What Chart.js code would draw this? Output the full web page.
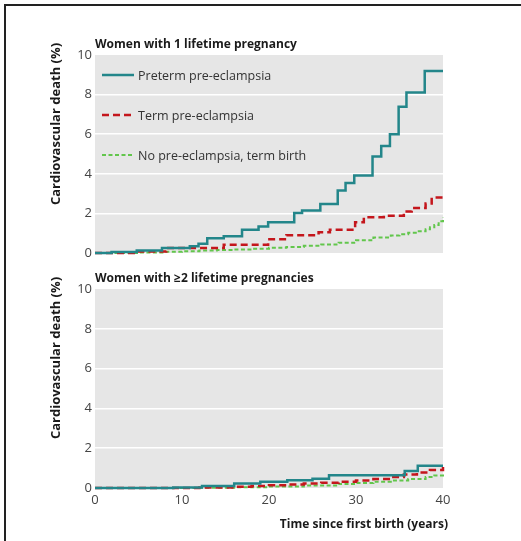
<!DOCTYPE html>
<html lang="en">
<head>
<meta charset="UTF-8">
<title>Cardiovascular death by pre-eclampsia</title>
<script src="https://cdn.jsdelivr.net/npm/chart.js"></script>
<style>
  body { margin: 0; background: #fff; font-family: "Open Sans", sans-serif; }
  #frame { position: relative; width: 521px; height: 541px; overflow: hidden; }
  #frame::before { content: ""; position: absolute; left: 4px; top: 4px; right: 0; bottom: 0;
    border-left: 2px solid #222; border-top: 2px solid #222; }
  canvas { position: absolute; left: 0; }
  #top { top: 0; }
  #bottom { top: 260px; }
</style>
</head>
<body>
<div id="frame">
  <canvas id="top" width="521" height="265"></canvas>
  <canvas id="bottom" width="521" height="281"></canvas>
</div>

<script>
  // panel 1: women with 1 lifetime pregnancy (years since first birth, % dead)
  const pretermTime1 = [0, 1.9, 4.8, 7.7, 10.9, 11.9, 12.9, 14.8, 16.9, 18.8, 19.9, 22.9, 23.8, 25.9, 27.9, 28.8, 29.8, 31.9, 32.9, 33.9, 34.9, 35.8, 37.9, 40];
  const pretermRisk1 = [0, 0.05, 0.13, 0.25, 0.34, 0.47, 0.74, 0.84, 1.18, 1.34, 1.55, 2.02, 2.15, 2.47, 3.16, 3.53, 3.92, 4.87, 5.41, 6.0, 7.39, 8.1, 9.19, 9.19];
  const termTime1 = [0, 4.8, 8.2, 14.8, 19.9, 22, 25.7, 27, 29.9, 30.9, 33.2, 35.5, 36.4, 38, 38.7, 40];
  const termRisk1 = [0, 0.08, 0.25, 0.42, 0.7, 0.9, 1.05, 1.18, 1.55, 1.8, 1.88, 2.1, 2.27, 2.5, 2.8, 2.8];
  const noPeTime1 = [0, 5, 8, 10, 12, 14, 16, 18, 20, 22, 24, 26, 28, 30, 32, 34, 35, 36, 37, 38, 38.5, 39, 39.5, 40];
  const noPeRisk1 = [0, 0.03, 0.06, 0.09, 0.12, 0.15, 0.18, 0.22, 0.26, 0.3, 0.36, 0.43, 0.52, 0.64, 0.78, 0.88, 0.95, 1.02, 1.1, 1.2, 1.3, 1.42, 1.6, 1.8];

  // panel 2: women with >=2 lifetime pregnancies
  const pretermTime2 = [0, 9, 12.3, 16, 19, 22.1, 25, 26.9, 35.6, 37.1, 40];
  const pretermRisk2 = [0, 0.03, 0.1, 0.22, 0.32, 0.39, 0.47, 0.64, 0.86, 1.12, 1.12];
  const termTime2 = [0, 12, 16, 18, 20, 22, 24, 26, 28, 30, 32, 34, 35.5, 37, 38.5, 40];
  const termRisk2 = [0, 0.02, 0.06, 0.1, 0.14, 0.18, 0.22, 0.27, 0.32, 0.38, 0.45, 0.55, 0.68, 0.78, 0.9, 1.05];
  const noPeTime2 = [0, 12, 16, 20, 24, 28, 30, 32, 34, 36, 38, 39, 40];
  const noPeRisk2 = [0, 0.01, 0.04, 0.08, 0.12, 0.2, 0.25, 0.32, 0.38, 0.45, 0.55, 0.63, 0.72];

  const seriesNames = ['Preterm pre-eclampsia', 'Term pre-eclampsia', 'No pre-eclampsia, term birth'];
  const yTicks = [0, 2, 4, 6, 8, 10];
  const xTicks = [0, 10, 20, 30, 40];
  const yTitle = 'Cardiovascular death (%)';
  const xTitle = 'Time since first birth (years)';

  const FONT = '"Open Sans", sans-serif';
  const styles = [
    { borderColor: '#23868a', borderWidth: 2.5, borderDash: [] },
    { borderColor: '#c4161c', borderWidth: 2.5, borderDash: [7, 4] },
    { borderColor: '#62c64c', borderWidth: 2, borderDash: [4, 2.5] }
  ];

  function pts(xs, ys) {
    return xs.map((x, i) => ({ x, y: ys[i] }));
  }

  function buildDatasets(series) {
    return series.map((s, i) => ({
      label: seriesNames[i],
      data: pts(s[0], s[1]),
      stepped: true,
      pointRadius: 0,
      fill: false,
      clip: 4,
      ...styles[i]
    }));
  }

  const panelBg = {
    id: 'panelBg',
    beforeDraw(chart) {
      const { ctx, chartArea: a } = chart;
      ctx.save();
      ctx.fillStyle = '#e6e6e6';
      ctx.fillRect(a.left, a.top, a.right - a.left, a.bottom - a.top);
      ctx.restore();
    }
  };

  // panel title, y title (sits a bit above centre in the original) and x title
  const panelText = {
    id: 'panelText',
    afterDraw(chart, args, opts) {
      const { ctx, chartArea: a } = chart;
      ctx.save();
      ctx.fillStyle = '#1a1a1a';
      ctx.font = 'bold 12px ' + FONT;
      ctx.textBaseline = 'alphabetic';
      ctx.fillText(opts.text, a.left, a.top - 7);

      ctx.font = 'bold 13px ' + FONT;
      ctx.save();
      ctx.translate(56, a.top + 69);
      ctx.rotate(-Math.PI / 2);
      ctx.textAlign = 'center';
      ctx.textBaseline = 'middle';
      ctx.fillText(yTitle, 0, 0);
      ctx.restore();

      if (opts.showX) {
        ctx.font = 'bold 12px ' + FONT;
        ctx.textAlign = 'right';
        ctx.textBaseline = 'middle';
        ctx.fillText(xTitle, a.right + 5, a.bottom + 37);
      }
      ctx.restore();
    }
  };

  const insideLegend = {
    id: 'insideLegend',
    afterDraw(chart, args, opts) {
      if (!opts.show) return;
      const { ctx } = chart;
      const rows = [75, 115, 155];
      ctx.save();
      ctx.font = '12.5px ' + FONT;
      ctx.textBaseline = 'middle';
      chart.data.datasets.forEach((ds, i) => {
        const y = rows[i];
        ctx.strokeStyle = ds.borderColor;
        ctx.lineWidth = ds.borderWidth;
        ctx.setLineDash(ds.borderDash);
        ctx.beginPath();
        ctx.moveTo(102, y);
        ctx.lineTo(134, y);
        ctx.stroke();
        ctx.setLineDash([]);
        ctx.fillStyle = '#333';
        ctx.fillText(ds.label, 138, y + 1);
      });
      ctx.restore();
    }
  };

  function makePanel(id, title, series, showX) {
    new Chart(document.getElementById(id), {
      type: 'line',
      data: { datasets: buildDatasets(series) },
      plugins: [panelBg, panelText, insideLegend],
      options: {
        responsive: false,
        animation: false,
        layout: { padding: showX ? { left: 43, top: 29, right: 78, bottom: 4 } : { left: 43, top: 55, right: 78, bottom: 12 } },
        plugins: {
          legend: { display: false },
          tooltip: { enabled: false },
          panelText: { text: title, showX },
          insideLegend: { show: !showX }
        },
        scales: {
          x: {
            type: 'linear',
            min: 0,
            max: 40,
            display: showX,
            afterBuildTicks: s => { s.ticks = xTicks.map(v => ({ value: v })); },
            afterFit: s => { s.height = showX ? 49 : 0; },
            grid: { display: false, drawTicks: false },
            border: { display: false },
            ticks: { color: '#444', padding: 4, font: { family: FONT, size: 13 } }
          },
          y: {
            min: 0,
            max: 10,
            afterBuildTicks: s => { s.ticks = yTicks.map(v => ({ value: v })); },
            afterFit: s => { s.width = 52; },
            grid: {
              drawTicks: false,
              lineWidth: 1.5,
              color: c => (c.tick && (c.tick.value === 0 || c.tick.value === 10)) ? 'rgba(0,0,0,0)' : '#ffffff'
            },
            border: { display: false },
            ticks: { color: '#444', padding: 3, font: { family: FONT, size: 13 } }
          }
        }
      }
    });
  }

  makePanel('top', 'Women with 1 lifetime pregnancy', [
    [pretermTime1, pretermRisk1],
    [termTime1, termRisk1],
    [noPeTime1, noPeRisk1]
  ], false);

  makePanel('bottom', 'Women with ≥2 lifetime pregnancies', [
    [pretermTime2, pretermRisk2],
    [termTime2, termRisk2],
    [noPeTime2, noPeRisk2]
  ], true);
</script>
</body>
</html>
